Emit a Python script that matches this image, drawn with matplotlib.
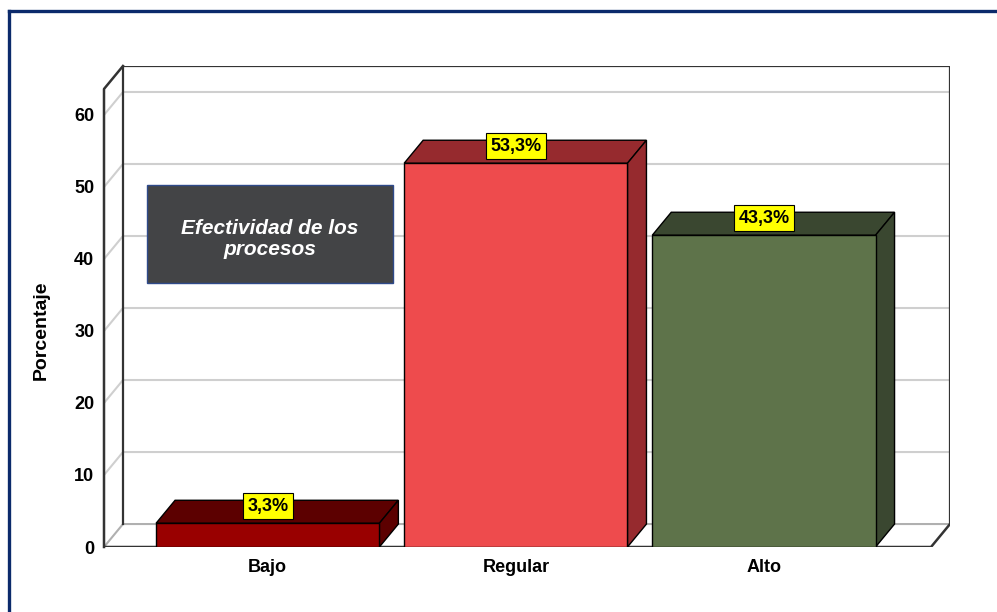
import numpy as np
import matplotlib.pyplot as plt
from matplotlib.patches import Polygon, Rectangle
from matplotlib.lines import Line2D

# datos
categorias = ['Bajo', 'Regular', 'Alto']
porcentajes = [3.3, 53.3, 43.3]
etiquetas = ['3,3%', '53,3%', '43,3%']
yticks = [0, 10, 20, 30, 40, 50, 60]
titulo_caja = 'Efectividad de los\nprocesos'

col_frente = ['#990000', '#EE4B4D', '#5E734A']
col_lado = ['#5C0000', '#962A2E', '#3A4730']

plt.rcParams['font.family'] = ['Liberation Sans', 'DejaVu Sans']

fig = plt.figure(figsize=(9.97, 6.12), dpi=100)
# eje en coordenadas de datos (valor 0 en y=547px)
ax = fig.add_axes([104/997, (612-547)/612, (950-104)/997, (547-66)/612])
xmin, xmax = -0.66, 2.75
ymax = 66.8
ax.set_xlim(xmin, xmax)
ax.set_ylim(0, ymax)
dx, dy = 0.0765, 3.19   # profundidad 3D
ancho = 0.9
for s in ax.spines.values():
    s.set_visible(False)

# rejilla (pared trasera + pared izquierda)
for v in yticks[1:]:
    ax.plot([xmin, xmin+dx, xmax], [v, v+dy, v+dy], color='#CFCFCF', lw=1.5, zorder=1)
# suelo
ax.plot([xmin, xmin+dx, xmax], [0, dy, dy], color='#B0B0B0', lw=1.5, zorder=1)
ax.plot([xmin, xmax-dx, xmax], [0, 0, dy], color='#333333', lw=1.8, zorder=2)
# paredes
ax.plot([xmin+dx, xmin+dx, xmax, xmax], [dy, ymax, ymax, dy], color='#333333', lw=1.6, zorder=2)
ax.plot([xmin, xmin, xmin+dx], [0, ymax-dy, ymax], color='#333333', lw=1.8, zorder=2,
        clip_on=False)

# barras 3D
for i, (v, cf, cl) in enumerate(zip(porcentajes, col_frente, col_lado)):
    x0, x1 = i - ancho/2, i + ancho/2
    ax.add_patch(Polygon([(x0, v), (x0+dx, v+dy), (x1+dx, v+dy), (x1, v)],
                         facecolor=cl, edgecolor='black', lw=1, zorder=3))
    ax.add_patch(Polygon([(x1, 0), (x1+dx, dy), (x1+dx, v+dy), (x1, v)],
                         facecolor=cl, edgecolor='black', lw=1, zorder=3))
    ax.add_patch(Rectangle((x0, 0), ancho, v, facecolor=cf, edgecolor='black',
                           lw=1, zorder=4))
    ax.text(i, v + dy*0.74, etiquetas[i], ha='center', va='center', fontsize=13,
            fontweight='bold', family=['Liberation Sans Narrow', 'Liberation Sans'],
            zorder=6,
            bbox=dict(boxstyle='square,pad=0.25', facecolor='#FFFF00',
                      edgecolor='black', lw=0.8))

ax.set_xticks(range(len(categorias)))
ax.set_xticklabels(categorias, fontsize=13, fontweight='bold')
ax.set_yticks(yticks)
ax.set_yticklabels([str(t) for t in yticks], fontsize=13, fontweight='bold')
ax.tick_params(length=0, axis='y', pad=7)
ax.tick_params(length=0, axis='x', pad=9)
ax.set_ylabel('Porcentaje', fontsize=14, fontweight='bold')
ax.yaxis.set_label_coords(-54/846, 0.45)

# caja de titulo
ax.add_patch(Rectangle((-0.487, 36.7), 0.992, 13.6, facecolor='#434446',
                       edgecolor='#2F4A8A', lw=1, zorder=5))
ax.text(0.009, 42.8, titulo_caja, ha='center', va='center', color='white',
        fontsize=15, fontweight='bold', fontstyle='italic', zorder=6,
        linespacing=1.1)

# borde azul de la figura
fig.add_artist(Line2D([8.5/997, 8.5/997], [0, 1-10.5/612], color='#0B2A6B', lw=2.4))
fig.add_artist(Line2D([8.5/997, 1], [1-10.5/612, 1-10.5/612], color='#0B2A6B', lw=2.4))

fig.savefig('out.png', dpi=100)
